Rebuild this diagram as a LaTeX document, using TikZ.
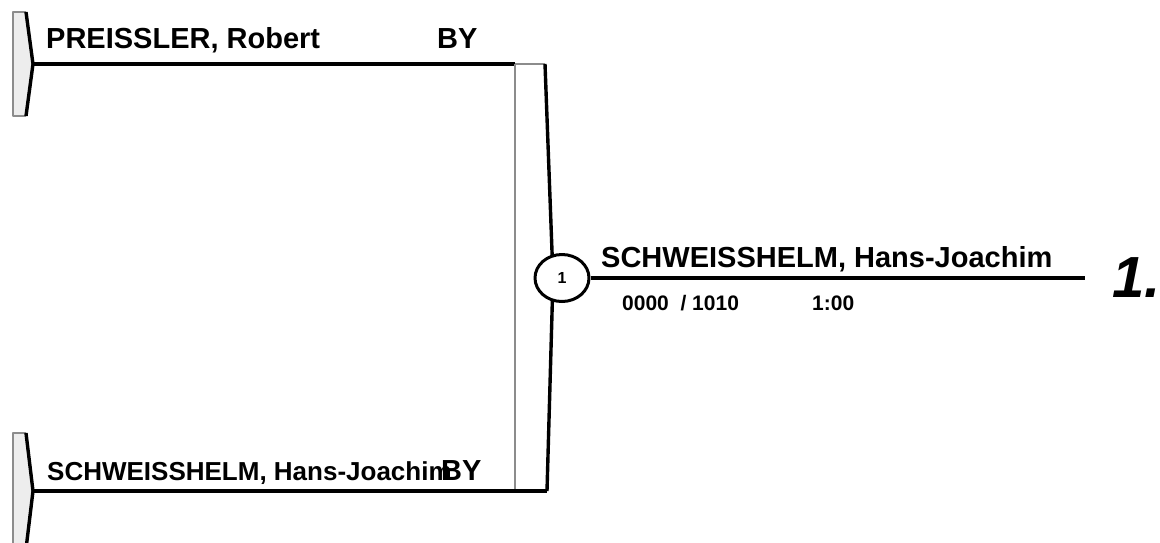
\documentclass[tikz,border=0pt]{standalone}
\usepackage{fontspec}
\setmainfont{Liberation Sans}[BoldFont={Liberation Sans Bold},
  BoldItalicFont={Liberation Sans Bold Italic}]
\usetikzlibrary{positioning, shapes.geometric}
\definecolor{rimgray}{gray}{0.55}
\definecolor{brfill}{gray}{0.93}
\tikzset{
  wire/.style    = {draw=black, line width=3.2pt},
  edge/.style    = {draw=black, line width=3.4pt, line join=round},
  rim/.style     = {draw=rimgray, line width=1.6pt},
  bout/.style    = {ellipse, draw=black, line width=3pt, fill=white,
                    minimum width=54pt, minimum height=47pt, inner sep=0pt,
                    font=\fontsize{16}{18}\selectfont\bfseries},
  fighter/.style = {font=\fontsize{29}{32}\selectfont\bfseries,
                    anchor=base west, inner sep=0pt},
  fightersm/.style = {fighter, font=\fontsize{26}{30}\selectfont\bfseries},
  score/.style   = {font=\fontsize{21}{24}\selectfont\bfseries,
                    anchor=base west, inner sep=0pt},
  place/.style   = {font=\fontsize{58}{60}\selectfont\bfseries\itshape,
                    anchor=base west, inner sep=0pt},
}

\begin{document}
\begin{tikzpicture}[x=1pt, y=-1pt, line join=round]
  \useasboundingbox (0,0) rectangle (1160,542);
  % entry brackets
  \foreach \t/\m in {12/64, 433/491}{
    \fill[brfill] (13,\t) -- (26,\t) -- (33,\m) -- (26,2*\m-\t) -- (13,2*\m-\t) -- cycle;
    \draw[rim] (26,\t) -- (13,\t) -- (13,2*\m-\t) -- (26,2*\m-\t);
    \draw[edge] (26,\t) -- (33,\m) -- (26,2*\m-\t);
  }
  \coordinate (p1) at (33,64);
  \coordinate (p2) at (33,491);
  \coordinate (j1) at (515,64);
  \coordinate (j2) at (515,491);
  \coordinate (m1) at (545,64);
  \coordinate (m2) at (547,491);
  \coordinate (mc) at (553,278);
  % bout bracket
  \draw[wire] (p1) -- (j1);
  \draw[rim] (j1) -- (m1);
  \draw[rim] (j1) -- (j2);
  \draw[wire] (p2) -- (m2);
  \draw[edge] (m1) -- (mc) -- (m2);
  \node[bout] (b1) at (562,278) {1};
  \coordinate (w1) at (1085,278);
  \draw[wire] (b1.east) -- (w1);
  % names
  \node[fighter] (f1) at (46,48) {PREISSLER, Robert};
  \node[fighter] (by1) at (437,48) {BY};
  \node[fightersm] (f2) at (47,480) {SCHWEISSHELM, Hans-Joachim};
  \node[fighter] (by2) at (441,480) {BY};
  \node[fighter] (win) at (601,267) {SCHWEISSHELM, Hans-Joachim};
  \node[score] (pts) at (622,310) {0000\ \ / 1010};
  \node[score] (tm) at (812,310) {1:00};
  \node[place] (rank) at (1112,297) {1.};
\end{tikzpicture}
\end{document}
